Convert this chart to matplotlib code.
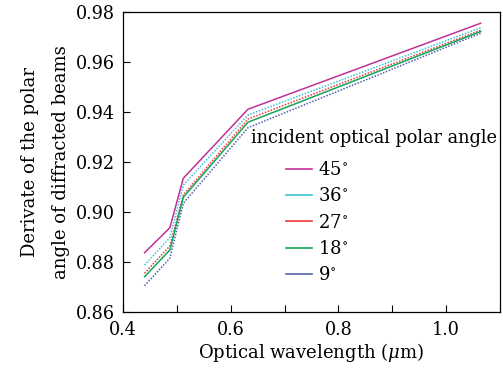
import matplotlib
matplotlib.use('Agg')
import matplotlib.pyplot as plt
from matplotlib.lines import Line2D

# wavelength (um)
wavelength = [0.44, 0.487, 0.512, 0.632, 1.064]

angles = ['45', '36', '27', '18', '9']
d45 = [0.8837, 0.8937, 0.9135, 0.9411, 0.9755]
d36 = [0.8788, 0.8897, 0.9108, 0.9388, 0.9737]
d27 = [0.8755, 0.8864, 0.9068, 0.9372, 0.9727]
d18 = [0.8741, 0.8848, 0.9059, 0.9359, 0.9722]
d9 = [0.8705, 0.8815, 0.9035, 0.9337, 0.9715]

colors = ['#c2309a', '#3cc4dc', '#f03a3a', '#10a55a', '#5262aa']
styles = ['-', (0, (1, 1)), (0, (1, 1)), '-', (0, (1, 1))]

plt.rcParams['font.family'] = 'DejaVu Serif'
plt.rcParams['mathtext.fontset'] = 'dejavuserif'

fig = plt.figure(figsize=(5.03, 3.70), dpi=100)
ax = fig.add_axes([123 / 503, 58 / 370, 377 / 503, 300 / 370])

series = [d45, d36, d27, d18, d9]
for vals, c, ls in zip(series, colors, styles):
    ax.plot(wavelength, vals, color=c, linestyle=ls, lw=1.1)

ax.set_xlim(0.4, 1.1)
ax.set_ylim(0.86, 0.98)
ax.set_xticks([0.4, 0.5, 0.6, 0.7, 0.8, 0.9, 1.0])
ax.set_xticklabels(['0.4', '', '0.6', '', '0.8', '', '1.0'])
ax.set_yticks([0.86, 0.88, 0.90, 0.92, 0.94, 0.96, 0.98])
ax.set_yticklabels(['0.86', '0.88', '0.90', '0.92', '0.94', '0.96', '0.98'])
ax.tick_params(direction='in', labelsize=12.7, length=5, width=0.8)
ax.tick_params(axis='x', pad=6.5)
ax.tick_params(axis='y', pad=6)
for s in ax.spines.values():
    s.set_linewidth(0.9)

ax.set_xlabel(r'Optical wavelength ($\mu$m)', fontsize=13, labelpad=1.5)
ax.set_ylabel('Derivate of the polar\nangle of diffracted beams', fontsize=13,
              labelpad=4, linespacing=1.9)

# legend title drawn on its own, entries indented below it
fig.text(251 / 503, 1 - 138 / 370, 'incident optical polar angle',
         fontsize=12.8, ha='left', va='center')
handles = [Line2D([0], [0], color=c, lw=1.2) for c in colors]
labels = [a + r'$^{\circ}$' for a in angles]
leg = ax.legend(handles, labels, loc='upper left',
                bbox_to_anchor=(286 / 503, 1 - 161 / 370),
                bbox_transform=fig.transFigure, frameon=False,
                fontsize=13, handlelength=1.45, handletextpad=0.3,
                labelspacing=0.46, borderaxespad=0, borderpad=0)

fig.savefig('out.png', dpi=100)
